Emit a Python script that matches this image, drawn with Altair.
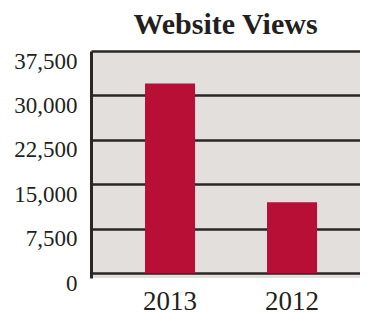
import altair as alt
import pandas as pd

years = ["2013", "2012"]
views = [32000, 12000]
y_ticks = [0, 7500, 15000, 22500, 30000, 37500]

df = pd.DataFrame({"year": years, "views": views})

bars = alt.Chart(df).mark_bar(color="#b80f36").encode(
    x=alt.X("year:N", sort=years, title=None,
            scale=alt.Scale(paddingInner=0.59, paddingOuter=0.3975, align=0.557),
            axis=alt.Axis(labelAngle=0, domain=False, ticks=False, labelFontSize=27,
                          labelFont="Liberation Serif", labelColor="#231f20",
                          labelPadding=10)),
    y=alt.Y("views:Q", title=None,
            scale=alt.Scale(domain=[-800, 37500], nice=False, zero=False),
            axis=alt.Axis(values=y_ticks, format=",.0f", labelFontSize=23,
                          labelFont="Liberation Serif", labelColor="#231f20",
                          ticks=False, labelPadding=14, labelOffset=10,
                          grid=True, gridColor="#2a2626", gridWidth=2.5, gridOpacity=1,
                          domain=True, domainColor="#2a2626", domainWidth=3)),
)

chart = bars.properties(
    width=269, height=227,
    title=alt.TitleParams("Website Views", font="Liberation Serif", fontSize=30,
                          fontWeight="bold", color="#231f20", anchor="middle", offset=10),
    autosize=alt.AutoSizeParams(type="none"),
    padding={"left": 83, "top": 43, "right": 0, "bottom": 35},
).configure_view(fill="#e3dfdc", stroke=None)

chart.save("out.html", embed_options={"renderer": "svg", "actions": False})
